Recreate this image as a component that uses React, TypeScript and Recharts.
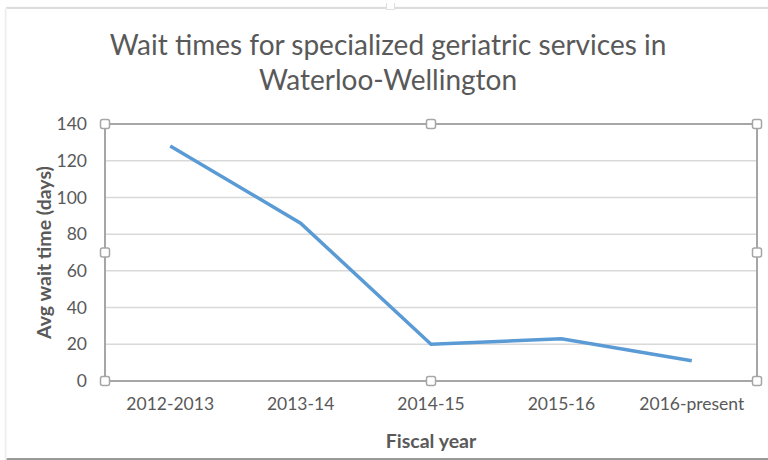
import { LineChart, Line, XAxis, YAxis, CartesianGrid, ReferenceArea } from "recharts";

const years = ["2012-2013", "2013-14", "2014-15", "2015-16", "2016-present"];
const waitDays = [128, 86, 20, 23, 11];
const yTicks = [0, 20, 40, 60, 80, 100, 120, 140];

const data = years.map((year, i) => ({ year, days: waitDays[i] }));

const FONT = "Lato, 'Open Sans', sans-serif";
const TEXT = "#595959";
const FRAME = "#a6a6a6";

// Excel-style selection handles around the plot area
function PlotFrame(props: any) {
  const { x, y, width, height } = props;
  const hs = 9;
  const pts = [
    [x, y], [x + width / 2, y], [x + width, y],
    [x, y + height / 2], [x + width, y + height / 2],
    [x, y + height], [x + width / 2, y + height], [x + width, y + height],
  ];
  return (
    <g>
      <rect x={x} y={y} width={width} height={height} fill="none" stroke={FRAME} strokeWidth={2} />
      {pts.map(([px, py], i) => (
        <rect key={i} x={px - hs / 2} y={py - hs / 2} width={hs} height={hs} rx={2}
          fill="#fff" stroke={FRAME} strokeWidth={1.5} />
      ))}
    </g>
  );
}

export default function App() {
  return (
    <div style={{ position: "absolute", left: 0, top: 0, width: 768, height: 460, background: "#fff", overflow: "hidden", fontFamily: FONT }}>
      <div style={{ position: "absolute", left: 6, top: 7, width: 770, height: 449, borderTop: "2px solid #dcdcdc", borderLeft: "1px solid #f6f6f6", borderBottom: "3px solid #9a9a9a", boxShadow: "0 1px 2px #c8c8c8" }} />
      <div style={{ position: "absolute", left: 386, top: 3, width: 7, height: 6, border: "1px solid #e0e0e0", borderTop: "none", background: "#fff" }} />
      <div style={{ position: "absolute", left: 0, top: 27, width: 776, textAlign: "center", color: TEXT, fontSize: 28, lineHeight: "35px" }}>
        Wait times for specialized geriatric services in<br />Waterloo-Wellington
      </div>
      <div style={{ position: "absolute", left: 0, top: 0 }}>
        <LineChart width={768} height={460} data={data} margin={{ top: 124, right: 11, bottom: 0, left: 0 }}>
          <CartesianGrid vertical={false} stroke="#d9d9d9" strokeWidth={1.5} />
          <XAxis
            dataKey="year"
            scale="band"
            axisLine={false}
            tickLine={false}
            tickSize={0}
            tickMargin={17}
            tick={{ fill: TEXT, fontSize: 17.5, fontFamily: FONT }}
            label={{ value: "Fiscal year", position: "insideBottom", offset: 12, fill: TEXT, fontSize: 19.5, fontWeight: "bold", fontFamily: FONT }}
            height={79}
          />
          <YAxis
            domain={[0, 140]}
            ticks={yTicks}
            width={105}
            axisLine={false}
            tickLine={false}
            tickSize={0}
            tickMargin={18}
            tick={{ fill: TEXT, fontSize: 17.5, fontFamily: FONT }}
            label={{ value: "Avg wait time (days)", angle: -90, position: "insideLeft", offset: 44, style: { textAnchor: "middle" }, fill: TEXT, fontSize: 19.5, fontWeight: "bold", fontFamily: FONT }}
          />
          <ReferenceArea y1={0} y2={140} shape={<PlotFrame />} />
          <Line type="linear" dataKey="days" stroke="#5b9bd5" strokeWidth={3.5} dot={false} isAnimationActive={false} />
        </LineChart>
      </div>
    </div>
  );
}
